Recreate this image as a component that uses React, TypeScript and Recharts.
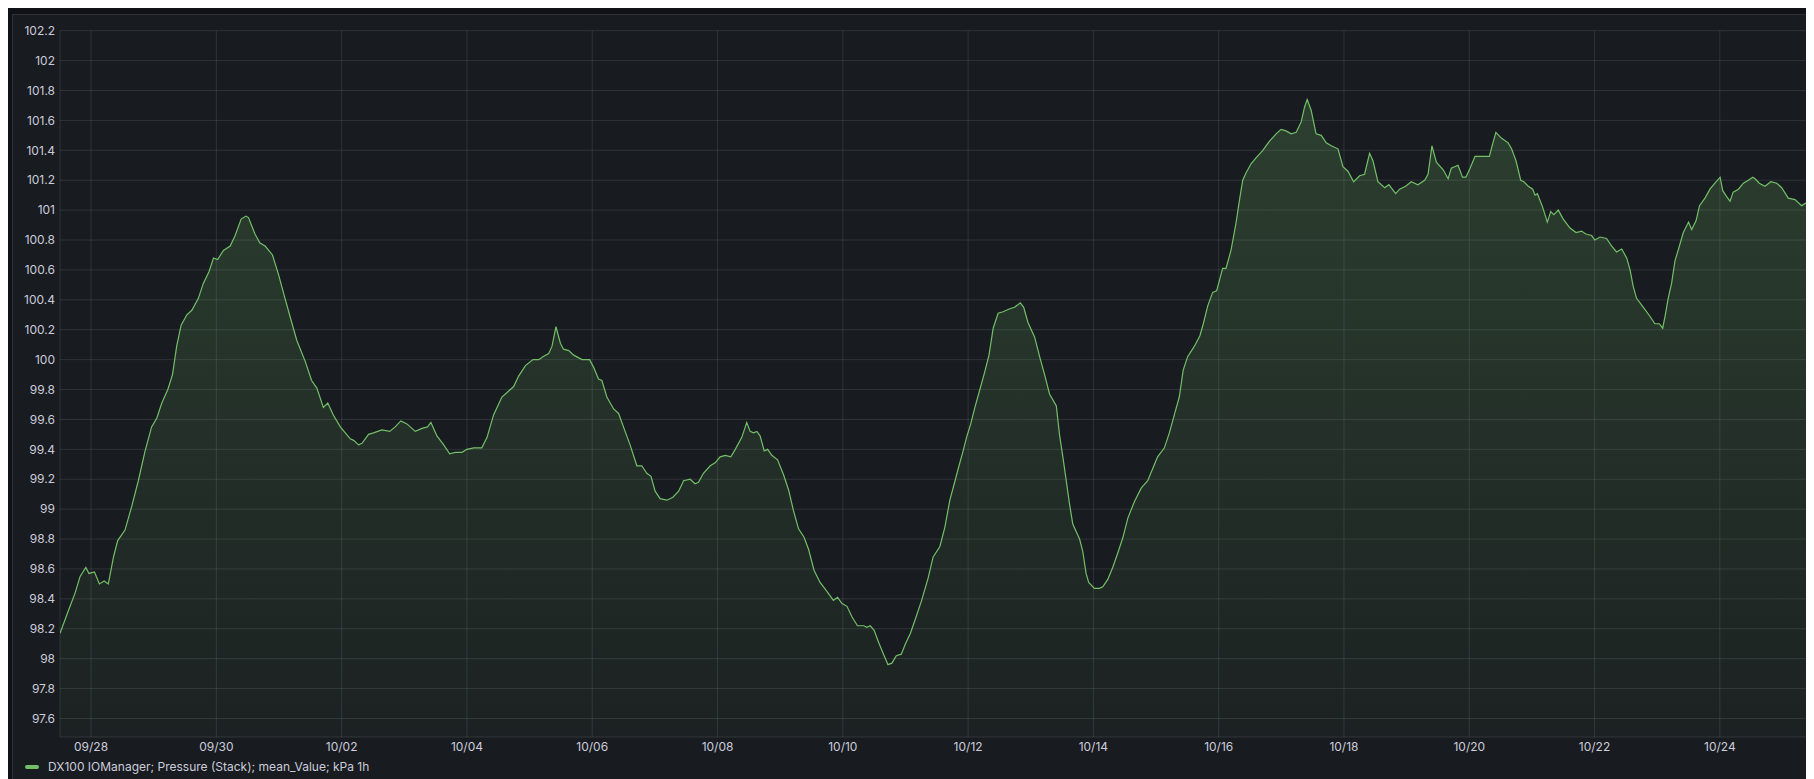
import React from "react";
import { AreaChart, Area, XAxis, YAxis, CartesianGrid } from "recharts";

// hours since 09/28 00:00
const hours: number[] = [
  -11.9, -8.7, -6.1, -4.2, -2, -0.8, 1.3, 3.2, 5, 6.6, 8.6, 10.2, 13, 15.6, 18.1, 20.7, 23.2, 25.2, 27.1, 29.4,
  31.2, 32.8, 34.5, 36.7, 38.6, 41.1, 43, 45.2, 46.9, 48.5, 50.7, 53.3, 55.2, 57.5, 59.3, 60.3, 62.8, 64.7, 66.7, 69.5,
  71.8, 74.3, 76.2, 78.8, 82, 84.5, 86.5, 89, 90.7, 92.8, 95.5, 97.4, 99.3, 100.6, 102.5, 103.8, 106.3, 108.2, 111.4, 114.4,
  116.5, 118.7, 121, 124.2, 126.8, 128.9, 130.2, 132.5, 135.1, 137.4, 139.5, 142.1, 144, 146.6, 148.5, 149.7, 151.7, 154.2, 157.4, 160,
  161.9, 163.8, 166.4, 169.3, 171.5, 173.1, 175.3, 176.6, 178.1, 179.8, 181, 183, 184.9, 188.1, 191, 192.5, 194.4, 195.7, 197.6, 200.2,
  202.1, 204.6, 206.5, 209.1, 211, 212.9, 214.5, 216.1, 218, 220.6, 222.9, 225.1, 227, 229.5, 231.4, 232.7, 234.6, 237.2, 239.1, 241,
  243, 245.1, 246.8, 249.3, 251.2, 252.5, 253.8, 255.1, 256.3, 257.9, 259.2, 260.8, 263, 265.3, 267.2, 269.1, 271, 273.2, 274.9, 277,
  279.3, 281.9, 284.4, 286, 287.6, 289.6, 291.5, 293.6, 296, 297.2, 298.5, 300, 301.7, 303.6, 305.3, 306.8, 308.5, 310.4, 312, 313.9,
  315.7, 318.2, 320.7, 322.6, 325.2, 327.1, 329, 331, 332.2, 334.1, 335.4, 337, 338.6, 340.5, 342.4, 344, 345.6, 347.5, 349.4, 352,
  353.8, 356, 357.3, 358.9, 361.5, 363.4, 365.3, 367.2, 369.8, 371, 372.3, 373.6, 374.8, 376.1, 377.4, 378.7, 379.9, 381.2, 382.2, 384.4,
  386.3, 387.6, 389.5, 391.4, 393.4, 395.3, 397.2, 399.7, 402.3, 404.8, 406.7, 408.6, 411.2, 413.1, 415, 416.9, 418.4, 420.1, 422.7, 424.8,
  426.1, 427.8, 429.7, 431.2, 432.9, 433.5, 434.8, 436.7, 438.6, 439.9, 441.2, 442.5, 444.4, 446.3, 448.9, 451.4, 454, 455.9, 457.8, 459.8,
  461.7, 463.6, 464.9, 465.9, 467.4, 469.3, 471.3, 473.2, 475.1, 477.7, 479.6, 481.5, 483.7, 486, 487.9, 489.8, 491.1, 493, 495.6, 497.2,
  499.8, 501.3, 503.6, 505.8, 508.3, 510.9, 512.2, 513.7, 515.4, 518, 519.9, 521.1, 523.7, 525.4, 526.7, 528.3, 530.2, 531.4, 533.4, 535.7,
  536.9, 538.2, 540.4, 542.9, 544.2, 545.9, 547.7, 548.9, 550.6, 552.3, 553.2, 554.1, 556.1, 557.9, 559.2, 560.4, 562.1, 564, 566.6, 568.9,
  571, 572.7, 574.9, 576.1, 578.1, 580.6, 582.5, 584.4, 586.4, 588.3, 589.6, 590.8, 592.1, 594.7, 597.2, 599.1, 600.8, 602.1, 603, 604.2,
  605.5, 606.8, 608.5, 610, 612, 613.2, 614.9, 616.2, 618.3, 620.2, 622.1, 624.1, 625.1, 626.6, 627.9, 629.1, 631.1, 633, 634.9, 636.6,
  637.5, 639.1, 641.3, 643.5, 645.8, 647.7, 650.2, 652.8, 655.3, 657.2, 659.2,
];

// kPa
const pressure: number[] = [
  98.17, 98.32, 98.44, 98.55, 98.61, 98.57, 98.58, 98.5, 98.52, 98.5, 98.68, 98.79, 98.86, 99.02, 99.19, 99.39, 99.55, 99.61, 99.71, 99.8,
  99.9, 100.09, 100.23, 100.3, 100.33, 100.41, 100.51, 100.59, 100.68, 100.67, 100.73, 100.76, 100.83, 100.94, 100.96, 100.95, 100.84, 100.78, 100.76, 100.7,
  100.57, 100.41, 100.29, 100.13, 99.99, 99.86, 99.81, 99.68, 99.71, 99.63, 99.55, 99.51, 99.47, 99.46, 99.43, 99.44, 99.5, 99.51, 99.53, 99.52,
  99.55, 99.59, 99.57, 99.52, 99.54, 99.55, 99.58, 99.49, 99.43, 99.37, 99.38, 99.38, 99.4, 99.41, 99.41, 99.41, 99.48, 99.63, 99.75, 99.79,
  99.82, 99.89, 99.96, 100.0, 100.0, 100.02, 100.04, 100.09, 100.22, 100.11, 100.07, 100.06, 100.03, 100.0, 100.0, 99.95, 99.87, 99.86, 99.75, 99.67,
  99.64, 99.52, 99.43, 99.29, 99.29, 99.24, 99.22, 99.12, 99.07, 99.06, 99.08, 99.12, 99.19, 99.2, 99.17, 99.18, 99.24, 99.29, 99.31, 99.35,
  99.36, 99.35, 99.4, 99.48, 99.58, 99.52, 99.51, 99.52, 99.49, 99.39, 99.4, 99.36, 99.33, 99.23, 99.13, 98.99, 98.87, 98.81, 98.73, 98.59,
  98.51, 98.45, 98.39, 98.41, 98.37, 98.35, 98.28, 98.22, 98.22, 98.21, 98.22, 98.19, 98.11, 98.03, 97.96, 97.97, 98.02, 98.03, 98.1, 98.17,
  98.26, 98.39, 98.54, 98.68, 98.75, 98.88, 99.06, 99.19, 99.27, 99.39, 99.48, 99.57, 99.68, 99.8, 99.92, 100.03, 100.21, 100.31, 100.32, 100.34,
  100.35, 100.38, 100.35, 100.25, 100.15, 100.02, 99.9, 99.77, 99.69, 99.5, 99.35, 99.19, 99.04, 98.9, 98.85, 98.8, 98.72, 98.57, 98.51, 98.47,
  98.47, 98.48, 98.53, 98.61, 98.71, 98.81, 98.94, 99.05, 99.14, 99.19, 99.27, 99.35, 99.41, 99.51, 99.63, 99.75, 99.93, 100.02, 100.09, 100.16,
  100.24, 100.36, 100.45, 100.46, 100.57, 100.61, 100.61, 100.73, 100.91, 101.06, 101.2, 101.25, 101.31, 101.35, 101.4, 101.46, 101.51, 101.54, 101.53, 101.51,
  101.52, 101.59, 101.69, 101.74, 101.67, 101.51, 101.5, 101.45, 101.43, 101.41, 101.29, 101.26, 101.19, 101.23, 101.24, 101.38, 101.33, 101.19, 101.15, 101.17,
  101.11, 101.14, 101.16, 101.19, 101.17, 101.2, 101.24, 101.43, 101.32, 101.27, 101.21, 101.28, 101.3, 101.22, 101.22, 101.28, 101.36, 101.36, 101.36, 101.36,
  101.44, 101.52, 101.48, 101.45, 101.41, 101.33, 101.2, 101.19, 101.16, 101.14, 101.1, 101.11, 101.02, 100.92, 100.99, 100.97, 101.0, 100.94, 100.88, 100.85,
  100.86, 100.84, 100.83, 100.8, 100.82, 100.81, 100.76, 100.72, 100.74, 100.68, 100.6, 100.49, 100.41, 100.35, 100.29, 100.24, 100.24, 100.21, 100.29, 100.41,
  100.51, 100.66, 100.76, 100.85, 100.92, 100.87, 100.93, 101.03, 101.08, 101.14, 101.18, 101.22, 101.13, 101.09, 101.06, 101.12, 101.14, 101.18, 101.2, 101.22,
  101.21, 101.18, 101.16, 101.19, 101.18, 101.15, 101.08, 101.07, 101.03, 101.05, 101.07,
];

const xTickHours: number[] = [0, 48, 96, 144, 192, 240, 288, 336, 384, 432, 480, 528, 576, 624];
const xTickLabels: string[] = ["09/28", "09/30", "10/02", "10/04", "10/06", "10/08", "10/10", "10/12", "10/14", "10/16", "10/18", "10/20", "10/22", "10/24"];
const yTicks: number[] = [97.6, 97.8, 98, 98.2, 98.4, 98.6, 98.8, 99, 99.2, 99.4, 99.6, 99.8, 100, 100.2, 100.4, 100.6, 100.8, 101, 101.2, 101.4, 101.6, 101.8, 102, 102.2];
const seriesName = "DX100 IOManager; Pressure (Stack); mean_Value; kPa 1h";

const data = hours.map((h, i) => ({ t: h, v: pressure[i] }));

const textColor = "#ccccdc";
const gridColor = "rgba(240,250,255,0.11)";
const green = "#73BF69";
const font = "Inter, 'Noto Sans', sans-serif";

export default function App() {
  return (
    <div style={{ position: "relative", width: 1806, height: 771, background: "#111217", fontFamily: font, overflow: "hidden" }}>
      <style>{`html,body{overflow:hidden}`}</style>
      <div
        style={{
          position: "absolute",
          left: 4,
          top: 6,
          right: 0,
          bottom: 0,
          background: "#181b1f",
          borderTop: "1px solid rgba(204,204,220,0.12)",
          borderLeft: "1px solid rgba(204,204,220,0.12)",
        }}
      />
      <div style={{ position: "absolute", left: 0, top: 0 }}>
        <AreaChart width={1806} height={771} data={data} margin={{ top: 22.7, right: 2, bottom: 18, left: 0 }}>
          <defs>
            <linearGradient id="fillGrad" x1="0" y1="0" x2="0" y2="1">
              <stop offset="0%" stopColor={green} stopOpacity={0.22} />
              <stop offset="100%" stopColor={green} stopOpacity={0.04} />
            </linearGradient>
          </defs>
          <CartesianGrid stroke={gridColor} strokeWidth={1} />
          <XAxis
            dataKey="t"
            type="number"
            domain={[-11.9, 659.3]}
            allowDataOverflow
            ticks={xTickHours}
            tickFormatter={(v: number) => xTickLabels[xTickHours.indexOf(v)] ?? ""}
            axisLine={false}
            tickLine={false}
            tickSize={3}
            tickMargin={2.5}
            height={24}
            tick={{ fill: textColor, fontSize: 12, fontFamily: font }}
          />
          <YAxis
            type="number"
            domain={[97.476, 102.2]}
            allowDataOverflow
            ticks={yTicks}
            interval={0}
            tickFormatter={(v: number) => String(parseFloat(v.toFixed(1)))}
            axisLine={false}
            tickLine={false}
            tickSize={3}
            tickMargin={2}
            width={52}
            tick={{ fill: textColor, fontSize: 12, fontFamily: font }}
          />
          <Area
            type="linear"
            dataKey="v"
            name={seriesName}
            stroke={green}
            strokeWidth={1.2}
            fill="url(#fillGrad)"
            fillOpacity={1}
            dot={false}
            activeDot={false}
            isAnimationActive={false}
          />
        </AreaChart>
      </div>
      <div style={{ position: "absolute", left: 17, top: 751.7, height: 14, display: "flex", alignItems: "center" }}>
        <div style={{ width: 14, height: 4, borderRadius: 2, background: green, marginRight: 9 }} />
        <span style={{ color: textColor, fontSize: 12, lineHeight: "14px", whiteSpace: "nowrap" }}>{seriesName}</span>
      </div>
    </div>
  );
}
